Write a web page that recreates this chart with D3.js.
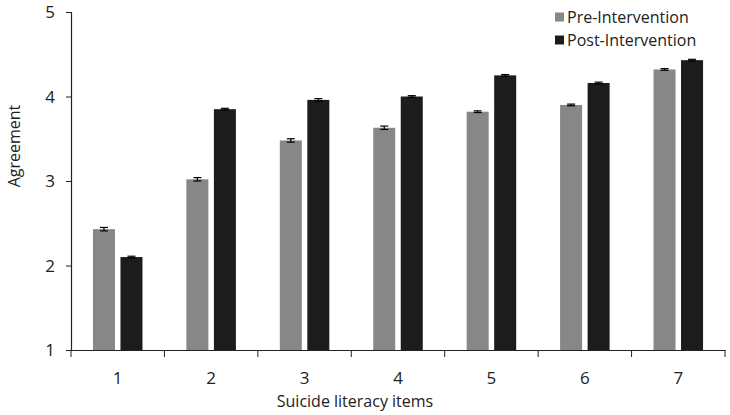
<!DOCTYPE html>
<html>
<head>
<meta charset="utf-8">
<script src="https://cdn.jsdelivr.net/npm/d3@7"></script>
<style>
  body { margin: 0; background: #fff; }
  text { font-family: "Open Sans", sans-serif; fill: #222; }
</style>
</head>
<body>
<svg id="chart" width="730" height="415"></svg>
<script>
var items = ["1", "2", "3", "4", "5", "6", "7"];
var preValues = [2.43, 3.02, 3.48, 3.63, 3.82, 3.90, 4.32];
var postValues = [2.10, 3.85, 3.96, 4.00, 4.25, 4.16, 4.43];
var preErrors = [0.02, 0.02, 0.02, 0.02, 0.01, 0.01, 0.01];
var postErrors = [0.01, 0.01, 0.015, 0.01, 0.01, 0.01, 0.01];
var seriesNames = ["Pre-Intervention", "Post-Intervention"];
var yTicks = [1, 2, 3, 4, 5];

var colors = ["#878787", "#1c1c1c"];

var margin = { left: 71, right: 5, top: 12, bottom: 65 };
var width = 730, height = 415;

var svg = d3.select("#chart");

var x = d3.scaleBand()
  .domain(items)
  .range([margin.left, width - margin.right])
  .paddingInner(0)
  .paddingOuter(0);

var xSeries = d3.scaleBand()
  .domain([0, 1])
  .range([x.bandwidth() * 0.235, x.bandwidth() * 0.765])
  .paddingInner(0.2);

var y = d3.scaleLinear()
  .domain([1, 5])
  .range([height - margin.bottom, margin.top]);

var data = items.map(function(d, i) {
  return [
    { item: d, s: 0, value: preValues[i], err: preErrors[i] },
    { item: d, s: 1, value: postValues[i], err: postErrors[i] }
  ];
});

var groups = svg.selectAll("g.group")
  .data(data)
  .enter().append("g")
  .attr("class", "group")
  .attr("transform", function(d, i) { return "translate(" + x(items[i]) + ",0)"; });

groups.selectAll("rect")
  .data(function(d) { return d; })
  .enter().append("rect")
  .attr("x", function(d) { return xSeries(d.s); })
  .attr("width", xSeries.bandwidth())
  .attr("y", function(d) { return y(d.value); })
  .attr("height", function(d) { return y(1) - y(d.value); })
  .attr("fill", function(d) { return colors[d.s]; });

// error bars
var errG = groups.selectAll("g.err")
  .data(function(d) { return d; })
  .enter().append("g")
  .attr("class", "err")
  .attr("stroke", "#000")
  .attr("stroke-width", 1.2);

errG.append("line")
  .attr("x1", function(d) { return xSeries(d.s) + xSeries.bandwidth() / 2; })
  .attr("x2", function(d) { return xSeries(d.s) + xSeries.bandwidth() / 2; })
  .attr("y1", function(d) { return y(d.value + d.err); })
  .attr("y2", function(d) { return y(d.value - d.err); });

[1, -1].forEach(function(sign) {
  errG.append("line")
    .attr("x1", function(d) { return xSeries(d.s) + xSeries.bandwidth() / 2 - 4; })
    .attr("x2", function(d) { return xSeries(d.s) + xSeries.bandwidth() / 2 + 4; })
    .attr("y1", function(d) { return y(d.value + sign * d.err); })
    .attr("y2", function(d) { return y(d.value + sign * d.err); });
});

// y axis
var yAxis = svg.append("g")
  .attr("transform", "translate(" + margin.left + ",0)")
  .call(d3.axisLeft(y).tickValues(yTicks).tickFormat(d3.format("d")).tickSize(5).tickPadding(11));

// x axis
var xAxis = svg.append("g")
  .attr("transform", "translate(0," + y(1) + ")")
  .call(d3.axisBottom(x).tickSize(0).tickPadding(22));

xAxis.selectAll(".tick").append("line")
  .attr("stroke", "#222")
  .attr("x1", -x.bandwidth() / 2).attr("x2", -x.bandwidth() / 2)
  .attr("y1", 0).attr("y2", 7);
xAxis.append("line")
  .attr("stroke", "#222")
  .attr("x1", width - margin.right).attr("x2", width - margin.right)
  .attr("y1", 0).attr("y2", 7);

[yAxis, xAxis].forEach(function(a) {
  a.select(".domain").attr("stroke", "#222").attr("stroke-width", 1.2);
  a.selectAll(".tick line").attr("stroke", "#222");
  a.selectAll(".tick text").style("font-size", "17px").attr("fill", "#222");
});
yAxis.selectAll(".tick text").attr("dy", "0.35em");

// axis titles
svg.append("text")
  .attr("transform", "translate(20,146) rotate(-90)")
  .attr("text-anchor", "middle")
  .style("font-size", "16px")
  .text("Agreement");

svg.append("text")
  .attr("x", 355)
  .attr("y", 407)
  .attr("text-anchor", "middle")
  .style("font-size", "16px")
  .text("Suicide literacy items");

// legend
var legend = svg.append("g").attr("transform", "translate(555,17)");
var lg = legend.selectAll("g")
  .data(seriesNames)
  .enter().append("g")
  .attr("transform", function(d, i) { return "translate(0," + i * 23 + ")"; });
lg.append("rect")
  .attr("x", 0).attr("y", -4.5)
  .attr("width", 9).attr("height", 9)
  .attr("fill", function(d, i) { return colors[i]; });
lg.append("text")
  .attr("x", 12).attr("y", 0)
  .attr("dy", "0.35em")
  .style("font-size", "16px")
  .text(function(d) { return d; });
</script>
</body>
</html>
